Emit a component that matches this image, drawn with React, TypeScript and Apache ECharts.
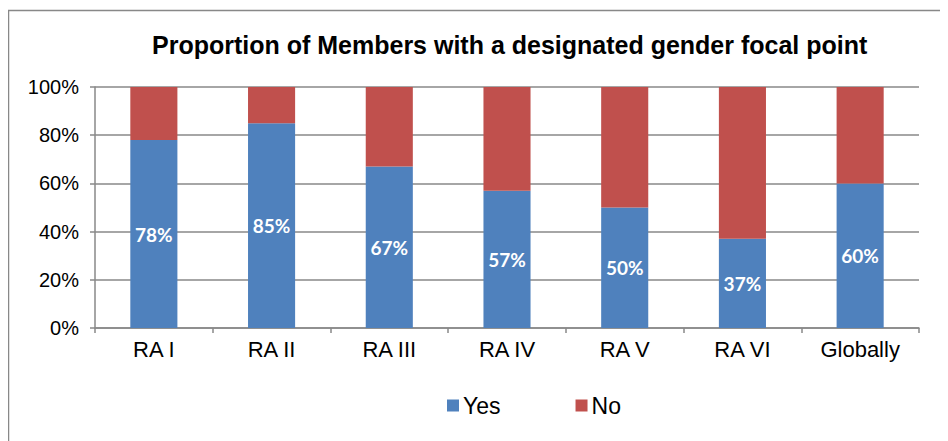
import React, { useEffect, useRef } from "react";
import * as echarts from "echarts";

const categories = ["RA I", "RA II", "RA III", "RA IV", "RA V", "RA VI", "Globally"];
const yesValues = [78, 85, 67, 57, 50, 37, 60];
const noValues = [22, 15, 33, 43, 50, 63, 40];
const titleText = "Proportion of Members with a designated gender focal point";

export default function App() {
  const ref = useRef<HTMLDivElement>(null);
  useEffect(() => {
    if (!ref.current) return;
    const chart = echarts.init(ref.current, null, { renderer: "svg" });
    const font = "'Liberation Sans', Arial, sans-serif";
    chart.setOption({
      animation: false,
      backgroundColor: "#ffffff",
      title: {
        text: titleText,
        left: 139,
        top: 19,
        textStyle: { fontFamily: font, fontSize: 25, fontWeight: "bold", color: "#000" },
      },
      graphic: [
        { type: "line", shape: { x1: 0.5, y1: 2, x2: 0.5, y2: 433 }, style: { stroke: "#888", lineWidth: 1.5 } },
        { type: "line", shape: { x1: 0, y1: 2.5, x2: 940, y2: 2.5 }, style: { stroke: "#888", lineWidth: 1.5 } },
      ],
      legend: {
        top: 381,
        left: 434,
        icon: "rect",
        itemWidth: 12,
        itemHeight: 12,
        itemGap: 75,
        textStyle: { fontFamily: font, fontSize: 23, color: "#000", padding: [0, 0, 0, -1] },
        data: ["Yes", "No"],
      },
      grid: { left: 87, right: 29, top: 79, bottom: 113, containLabel: false },
      xAxis: {
        type: "category",
        data: categories,
        axisLine: { lineStyle: { color: "#888", width: 1.5 } },
        axisTick: { show: true, length: 5, lineStyle: { color: "#888", width: 1.5 } },
        axisLabel: { fontFamily: font, fontSize: 22, color: "#000", margin: 10 },
      },
      yAxis: {
        type: "value",
        min: 0,
        max: 100,
        interval: 20,
        axisLine: { show: true, lineStyle: { color: "#888", width: 1.5 } },
        axisTick: { show: true, length: 5, lineStyle: { color: "#888", width: 1.5 } },
        axisLabel: { formatter: "{value}%", fontFamily: font, fontSize: 20, color: "#000", margin: 16 },
        splitLine: { lineStyle: { color: "#888", width: 1.5 } },
      },
      series: [
        {
          name: "Yes",
          type: "bar",
          stack: "total",
          barWidth: "40%",
          data: yesValues,
          itemStyle: { color: "#4F81BD" },
          label: {
            show: true,
            position: "inside",
            formatter: "{c}%",
            color: "#fff",
            fontFamily: "Lato, 'Open Sans', sans-serif",
            fontWeight: "bold",
            fontSize: 19,
          },
        },
        {
          name: "No",
          type: "bar",
          stack: "total",
          barWidth: "40%",
          data: noValues,
          itemStyle: { color: "#C0504D" },
        },
      ],
    });
    return () => chart.dispose();
  }, []);
  return <div ref={ref} style={{ width: 940, height: 433 }} />;
}
